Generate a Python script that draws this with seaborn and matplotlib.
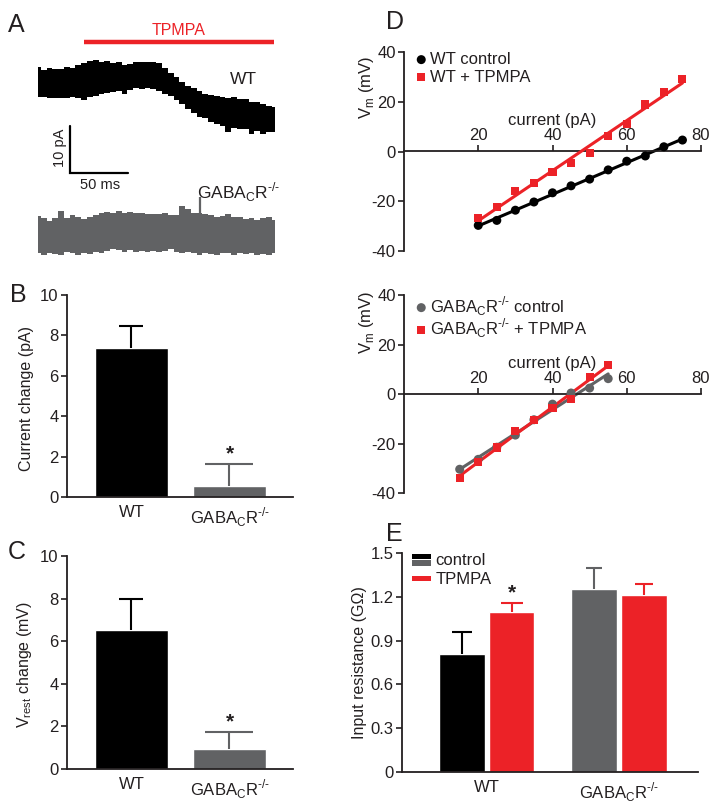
import io
import numpy as np
import pandas as pd
import matplotlib
matplotlib.use("Agg")
import matplotlib.pyplot as plt
import seaborn as sns
from matplotlib.patches import Rectangle
from matplotlib.legend_handler import HandlerBase
from matplotlib.mathtext import math_to_image

# ---------------- data ----------------
# Panel A: trace envelopes (pA, relative to WT baseline) read at these times (ms)
trace_t = [0, 5, 10, 15, 20, 25, 30, 35, 40, 45, 50, 55, 60, 65, 70, 75, 80, 85, 90, 95,
           100, 105, 110, 115, 120, 125, 130, 135, 140, 145, 150, 155, 160, 165, 170, 175,
           180, 185, 190, 195, 200, 205]
wt_upper = [2.85, 2.07, 2.64, 2.36, 2.36, 2.85, 2.64, 3.21, 3.64, 4.07, 4.28, 3.93, 4.07, 3.57,
            3.78, 3.21, 3.36, 3.93, 3.78, 3.93, 3.85, 3.71, 2.64, 1.43, 0.71, -0.36, -1.21,
            -1.78, -2.36, -3.0, -3.21, -3.36, -3.57, -3.93, -3.64, -4.14, -4.07, -4.64, -4.64,
            -5.07, -5.50, -5.71]
wt_lower = [-3.57, -3.57, -3.93, -3.93, -3.93, -3.78, -3.57, -3.78, -4.28, -3.57, -3.36, -3.07,
            -2.85, -2.50, -2.36, -3.07, -2.14, -1.78, -1.93, -1.78, -1.93, -2.36, -3.07, -3.36,
            -4.28, -5.21, -6.21, -7.14, -7.85, -8.21, -8.92, -9.49, -9.85, -11.21, -10.35,
            -10.49, -10.49, -11.63, -10.92, -11.63, -11.21, -11.06]
ko_upper = [-29.12, -29.62, -30.12, -29.62, -27.98, -29.62, -28.91, -29.26, -29.84, -29.26,
            -28.91, -28.41, -28.19, -28.55, -27.98, -28.41, -28.19, -28.55, -28.55, -28.69,
            -28.69, -28.69, -28.41, -28.91, -28.91, -26.98, -27.69, -28.41, -28.41, -28.69,
            -28.91, -29.26, -29.12, -28.69, -29.26, -29.41, -29.84, -29.62, -29.98, -29.62,
            -29.26, -29.98]
ko_lower = [-37.12, -37.47, -36.97, -37.26, -37.47, -36.76, -37.12, -37.47, -36.97, -37.26,
            -36.76, -37.12, -36.55, -36.26, -36.40, -36.76, -36.40, -36.76, -36.55, -36.76,
            -36.55, -36.76, -36.62, -36.26, -36.76, -36.97, -36.76, -37.12, -37.47, -36.97,
            -37.26, -37.47, -36.97, -37.12, -37.47, -37.12, -37.26, -37.12, -37.47, -37.26,
            -37.47, -37.12]
ko_spike_t = 140.4
ko_spike_top = -25.1
tpmpa_on = [39.9, 204.5]

# Panel B / C
current_change = [7.4, 0.53]
current_sem = [1.08, 1.09]
vrest_change = [6.52, 0.95]
vrest_sem = [1.48, 0.81]

# Panel D (top): WT
wt_i = [20, 25, 30, 35, 40, 45, 50, 55, 60, 65, 70, 75]
wt_ctrl_v = [-29.7, -27.7, -23.6, -20.3, -16.6, -13.8, -11.1, -7.4, -3.9, -1.8, 1.9, 4.6]
wt_tpmpa_v = [-26.6, -22.3, -15.9, -12.6, -8.4, -4.7, -0.7, 6.1, 11.1, 18.9, 23.9, 29.3]
# Panel D (bottom): GABAcR-/-
ko_i = [15, 20, 25, 30, 35, 40, 45, 50, 55]
ko_ctrl_v = [-30.4, -26.4, -21.5, -16.6, -10.4, -4.1, 0.4, 2.4, 6.2]
ko_tpmpa_v = [-34.1, -27.3, -21.6, -14.9, -10.4, -5.7, -1.9, 6.8, 11.6]

# Panel E
treatments = ["control", "TPMPA"]
rin_wt = [0.81, 1.096]
rin_ko = [1.256, 1.21]
rin_wt_sem = [0.147, 0.064]
rin_ko_sem = [0.141, 0.075]


# ---------------- labels ----------------
def _mt_ok(s):
    try:
        math_to_image(s, io.BytesIO(), format="png")
        return True
    except Exception:
        return False


SUP = r"$^{\text{-/-}}$" if _mt_ok(r"$^{\text{-/-}}$") else r"$^\mathregular{-/-}$"
KO = r"GABA$_\mathregular{C}$R" + SUP
genotypes = ["WT", KO]

# ---------------- style ----------------
BLACK = "#000000"
TEXT = "#231f20"
GRAY = "#616264"
RED = "#ec2227"

sns.set_theme(style="ticks")
plt.rcParams["font.family"] = ["Liberation Sans", "DejaVu Sans"]
plt.rcParams["mathtext.fontset"] = "custom"
plt.rcParams["mathtext.rm"] = "Liberation Sans"
plt.rcParams["axes.unicode_minus"] = False
plt.rcParams["text.color"] = TEXT
plt.rcParams["axes.labelcolor"] = TEXT
plt.rcParams["xtick.color"] = TEXT
plt.rcParams["ytick.color"] = TEXT
plt.rcParams["axes.edgecolor"] = TEXT
plt.rcParams["axes.linewidth"] = 1.3

FS = 12

fig = plt.figure(figsize=(7.21, 8.06), dpi=100)
W, H = 721.0, 806.0


def add_ax(x0, x1, y0, y1):
    return fig.add_axes([x0 / W, 1 - y1 / H, (x1 - x0) / W, (y1 - y0) / H])


def up_errorbar(ax, cx, top, err, color, cap):
    eb = ax.errorbar(cx, top, yerr=[[0], [err]], color=color, lw=1.5,
                     capsize=cap, capthick=1.5)
    for c in eb[1]:
        if abs(c.get_ydata()[0] - top) < 1e-9:
            c.remove()


# ---------------- Panel A ----------------
axA = add_ax(30, 290, 20, 270)
axA.set_xlim(-6.93, 218.4)
axA.set_ylim(-40.69, 12.85)
axA.axis("off")
axA.fill_between(trace_t, wt_lower, wt_upper, step="mid", color=BLACK, lw=0)
axA.fill_between(trace_t, ko_lower, ko_upper, step="mid", color=GRAY, lw=0)
axA.vlines(ko_spike_t, -28.5, ko_spike_top, color=GRAY, lw=1.6)
axA.plot(tpmpa_on, [8.2, 8.2], color=RED, lw=3.2, solid_capstyle="butt")
axA.text(122, 9.0, "TPMPA", color=RED, fontsize=11.5, ha="center", va="bottom")
axA.text(166.4, 0.2, "WT", fontsize=12.5, ha="left", va="center")
axA.text(137.8, -25.3, KO, fontsize=12.5, ha="left", va="baseline")
# scale bar
axA.plot([27.7, 27.7, 77.7], [-9.85, -19.85, -19.85], color=BLACK, lw=1.6, solid_joinstyle="miter")
axA.text(19.3, -14.6, "10 pA", rotation=90, fontsize=10.5, ha="center", va="center")
axA.text(53.5, -21.0, "50 ms", fontsize=10.5, ha="center", va="top")


# ---------------- Bar panels B, C ----------------
def bar_panel(ax, values, sems, ylabel, star_y, caps):
    sns.barplot(x=genotypes, y=values, hue=genotypes, palette=[BLACK, GRAY],
                width=0.74, saturation=1, errorbar=None, legend=False, ax=ax)
    for p, s, c, cap in zip(ax.patches, sems, [BLACK, GRAY], caps):
        cx = p.get_x() + p.get_width() / 2
        up_errorbar(ax, cx, p.get_height(), s, c, cap)
    ax.set_xlim(-0.658, 1.648)
    ax.set_ylim(0, 10)
    ax.set_yticks([0, 2, 4, 6, 8, 10])
    sns.despine(ax=ax)
    ax.tick_params(axis="x", length=0, labelsize=FS, pad=6)
    ax.tick_params(axis="y", length=4, width=1.2, labelsize=FS, pad=2)
    ax.set_ylabel(ylabel, fontsize=11.5)
    ax.set_xlabel("")
    ax.yaxis.set_label_coords(-0.145, 0.49)
    ax.text(1, star_y, "*", fontsize=15, ha="center", va="center", fontweight="bold")


axB = add_ax(67, 293, 295, 497)
bar_panel(axB, current_change, current_sem, "Current change (pA)", 2.15, [8.9, 17])

axC = add_ax(67, 293, 556, 769)
bar_panel(axC, vrest_change, vrest_sem, r"V$_\mathregular{rest}$ change (mV)", 2.2, [8.9, 17])


# ---------------- Panel D ----------------
def iv_panel(ax, x, y_ctrl, y_tp, ctrl_color, ctrl_label, tp_label, ylab_y, leg_y, spacing):
    sns.regplot(x=x, y=y_ctrl, scatter=False, ci=None, color=ctrl_color,
                line_kws=dict(lw=2.2, zorder=2), ax=ax)
    sns.regplot(x=x, y=y_tp, scatter=False, ci=None, color=RED,
                line_kws=dict(lw=2.2, zorder=3), ax=ax)
    sns.scatterplot(x=x, y=y_ctrl, color=ctrl_color, marker="o", s=42,
                    edgecolor="none", label=ctrl_label, zorder=4, ax=ax)
    sns.scatterplot(x=x, y=y_tp, color=RED, marker="s", s=34,
                    edgecolor="none", label=tp_label, zorder=5, ax=ax)
    ax.set_xlim(0, 80)
    ax.set_ylim(-40, 40)
    ax.set_xticks([20, 40, 60, 80])
    ax.set_yticks([-40, -20, 0, 20, 40])
    ax.spines["right"].set_visible(False)
    ax.spines["bottom"].set_visible(False)
    ax.spines["top"].set_position(("data", 0))
    ax.xaxis.tick_top()
    ax.xaxis.set_label_position("top")
    ax.tick_params(axis="x", direction="out", length=4, width=1.2, labelsize=FS, pad=2)
    ax.tick_params(axis="y", length=4, width=1.2, labelsize=FS, pad=2)
    ax.set_xlabel("current (pA)", fontsize=FS, labelpad=2)
    ax.set_ylabel(r"V$_\mathregular{m}$ (mV)", fontsize=FS)
    ax.yaxis.set_label_coords(-0.094, ylab_y)
    ax.legend(loc="upper left", bbox_to_anchor=(0.03, leg_y), frameon=False,
              fontsize=FS, handletextpad=0.0, borderaxespad=0, borderpad=0,
              labelspacing=spacing, handlelength=1.0)


axD1 = add_ax(404, 701, 52, 251)
iv_panel(axD1, wt_i, wt_ctrl_v, wt_tpmpa_v, BLACK, "WT control", "WT + TPMPA", 0.82, 1.0, 0.15)

axD2 = add_ax(404, 701, 295, 493)
iv_panel(axD2, ko_i, ko_ctrl_v, ko_tpmpa_v, GRAY, KO + " control", KO + " + TPMPA",
         0.86, 1.005, -0.05)


# ---------------- Panel E ----------------
axE = add_ax(402, 698, 553, 772)
dfE = pd.DataFrame({
    "genotype": ["WT", "WT", KO, KO],
    "treatment": treatments * 2,
    "rin": rin_wt + rin_ko,
})
sns.barplot(data=dfE, x="genotype", y="rin", hue="treatment",
            palette={"control": BLACK, "TPMPA": RED}, width=0.75, gap=0.08,
            saturation=1, errorbar=None, legend=False, ax=axE)
ctrl_bars, tp_bars = axE.containers[0], axE.containers[1]
ctrl_bars[1].set_facecolor(GRAY)
bar_list = [ctrl_bars[0], tp_bars[0], ctrl_bars[1], tp_bars[1]]
sem_list = [rin_wt_sem[0], rin_wt_sem[1], rin_ko_sem[0], rin_ko_sem[1]]
col_list = [BLACK, RED, GRAY, RED]
cap_list = [7.5, 7.8, 5.8, 6.8]
for p, s, c, cap in zip(bar_list, sem_list, col_list, cap_list):
    cx = p.get_x() + p.get_width() / 2
    up_errorbar(axE, cx, p.get_height(), s, c, cap)
tp_wt = tp_bars[0]
axE.text(tp_wt.get_x() + tp_wt.get_width() / 2, 1.225, "*", fontsize=15,
         ha="center", va="center", fontweight="bold")
axE.set_xlim(-0.639, 1.595)
axE.set_ylim(0, 1.5)
axE.set_yticks([0, 0.3, 0.6, 0.9, 1.2, 1.5])
axE.set_yticklabels(["0", "0.3", "0.6", "0.9", "1.2", "1.5"])
sns.despine(ax=axE)
axE.tick_params(axis="x", length=0, labelsize=FS, pad=6)
axE.tick_params(axis="y", length=4, width=1.2, labelsize=FS, pad=2)
axE.set_xlabel("")
axE.set_ylabel("Input resistance (G\u03a9)", fontsize=11.5)
axE.yaxis.set_label_coords(-0.118, 0.5)


class StackHandler(HandlerBase):
    def __init__(self, colors, frac):
        super().__init__()
        self.colors = colors
        self.frac = frac

    def create_artists(self, legend, orig_handle, xdescent, ydescent, width,
                       height, fontsize, trans):
        n = len(self.colors)
        total = height * self.frac
        y0 = -ydescent + (height - total) / 2
        h = total / n
        arts = []
        for i, c in enumerate(self.colors):
            arts.append(Rectangle((-xdescent, y0 + total - (i + 1) * h), width,
                                  h * 0.82, facecolor=c, edgecolor="none",
                                  transform=trans))
        return arts


h_ctrl = Rectangle((0, 0), 1, 1)
h_tp = Rectangle((0, 0), 1, 1)
axE.legend([h_ctrl, h_tp], treatments, loc="upper left",
           bbox_to_anchor=(0.035, 1.0), frameon=False, fontsize=FS,
           handler_map={h_ctrl: StackHandler([BLACK, GRAY], 1.15),
                        h_tp: StackHandler([RED], 0.5)},
           handlelength=1.1, handletextpad=0.3, borderaxespad=0, borderpad=0,
           labelspacing=0.25)

# ---------------- panel letters ----------------
for letter, x, y in [("A", 8, 13), ("B", 10, 283), ("C", 8, 540), ("D", 386, 10), ("E", 386, 522)]:
    fig.text(x / W, 1 - y / H, letter, fontsize=18, ha="left", va="top")

fig.savefig("out.png", dpi=100)
